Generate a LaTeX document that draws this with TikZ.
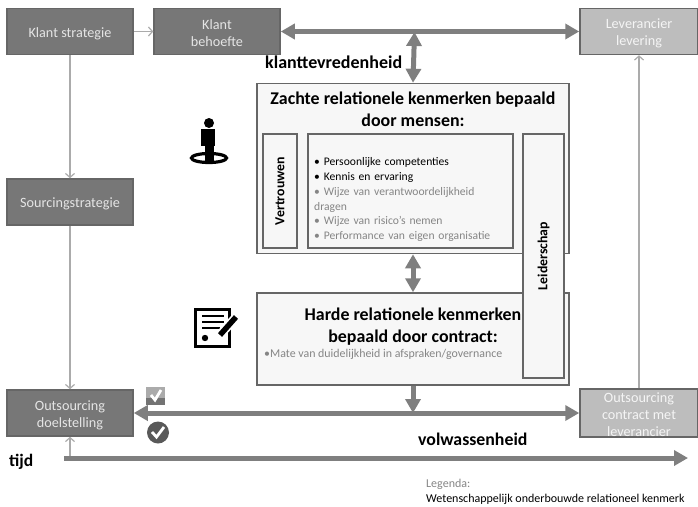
\documentclass[tikz,border=0pt]{standalone}
\usepackage{fontspec}
\setmainfont{Carlito}
\usetikzlibrary{arrows.meta}
\definecolor{darkfill}{HTML}{777777}
\definecolor{lightfill}{HTML}{BDBDBD}
\definecolor{edgegray}{HTML}{666666}
\definecolor{shaftgray}{HTML}{7F7F7F}
\definecolor{thingray}{HTML}{ABABAB}
\definecolor{softtext}{HTML}{858585}
\newcommand{\hoog}{\rule{0pt}{14pt}}
\begin{document}
\begin{tikzpicture}[
x=1pt,y=-1pt,
dark/.style={
    rectangle,
    draw=edgegray,
    fill=darkfill,
    text=white!90!black,
    align=center,
    inner sep=0,
    line width=1.5pt,
    minimum width=126pt,
    minimum height=46pt,
    font=\fontsize{14.2}{17}\selectfont
    },
pale/.style={
    dark,
    fill=lightfill,
    text=white!85!lightfill,
    minimum width=118pt
    },
kader/.style={
    rectangle,
    draw=edgegray,
    fill=black!3,
    line width=1.5pt,
    inner sep=0
    },
staand/.style={
    kader,
    rotate=90,
    font=\fontsize{13.8}{14}\selectfont\bfseries
    },
kop/.style={
    align=center,
    inner sep=0,
    font=\fontsize{17.9}{22}\selectfont\bfseries
    },
thin/.style={
    draw=thingray,
    line width=1.2pt,
    -{Straight Barb[length=4pt,width=9pt]}
    },
thick/.style={
    draw=shaftgray,
    line width=5pt,
    -{Triangle[length=14pt,width=15pt]}
    },
both/.style={
    thick,
    {Triangle[length=14pt,width=15pt]}-{Triangle[length=14pt,width=15pt]}
    }
]
\useasboundingbox (0,0) rectangle (698,506);
% linker kolom
\node(kstrategie) [dark] at (70,31.5) {\hoog Klant strategie};
\node(kbehoefte) [dark] at (217,31.5) {\hoog Klant\\behoefte};
\node(sourcing) [dark] at (70,202) {\hoog Sourcingstrategie};
\node(doelstelling) [dark] at (70,413) {\hoog Outsourcing\\doelstelling};
% rechter kolom
\node(levering) [pale] at (639,31.5) {\hoog Leverancier\\levering};
\node(contract) [pale] at (639,413) {\hoog Outsourcing\\contract met\\leverancier};
% kaders midden
\node(zachte) [kader,minimum width=312pt,minimum height=170pt] at (413,168.5) {};
\node(harde) [kader,minimum width=312pt,minimum height=92pt] at (413,339) {};
\node(vertrouwen) [staand,minimum width=114pt,minimum height=34pt] at (280,191) {Vertrouwen};
\node(lijst) [kader,minimum width=205pt,minimum height=114pt] at (410.5,191) {};
\node(leiderschap) [staand,minimum width=244pt,minimum height=41pt] at (543.5,256) {Leiderschap};
\node(zachtekop) [kop] at (413,109) {Zachte relationele kenmerken bepaald\\door mensen:};
\node(hardekop) [kop] at (413,326.5) {Harde relationele kenmerken\\bepaald door contract:};
\node(lijsttekst) [anchor=north west,inner sep=0,text width=196pt,align=left,font=\fontsize{11.6}{14.8}\selectfont] at (314,157.5) {%
• Persoonlijke competenties\\
• Kennis en ervaring\\
\textcolor{softtext}{• Wijze van verantwoordelijkheid}\\
\textcolor{softtext}{dragen}\\
\textcolor{softtext}{• Wijze van risico's nemen}\\
\textcolor{softtext}{• Performance van eigen organisatie}};
\node(duidelijk) [anchor=west,inner sep=0,text=softtext,font=\fontsize{11.9}{13}\selectfont] at (264,354) {•Mate van duidelijkheid in afspraken/governance};
% losse labels
\node(ktv) [anchor=west,inner sep=0,font=\fontsize{18}{20}\selectfont\bfseries] at (265,62) {klanttevredenheid};
\node(volw) [anchor=west,inner sep=0,font=\fontsize{17.8}{20}\selectfont\bfseries] at (418,439) {volwassenheid};
\node(tijd) [anchor=west,inner sep=0,font=\fontsize{17.5}{20}\selectfont\bfseries] at (9,462) {tijd};
\node(legenda) [anchor=west,inner sep=0,text=softtext,font=\fontsize{12}{12}\selectfont] at (426,484) {Legenda:};
\node(uitleg) [anchor=west,inner sep=0,font=\fontsize{12}{12}\selectfont] at (426,499) {Wetenschappelijk onderbouwde relationeel kenmerk};
% dunne pijlen
\coordinate(tijdstart) at (64,458);
\coordinate(tijdeind) at (688,458);
\coordinate(tijdvoet) at (70,458);
\draw[thin] (kstrategie) -- (kbehoefte);
\draw[thin] (kstrategie) -- (sourcing);
\draw[thin] (sourcing) -- (doelstelling);
\draw[thin] (tijdvoet) -- (doelstelling);
\draw[thin] (contract) -- (levering);
% dikke pijlen
\coordinate(boven) at (414.5,32);
\coordinate(onder) at (413,413);
\draw[both] (kbehoefte) -- (levering);
\draw[both] (doelstelling) -- (contract);
\draw[both] (boven) -- (zachte.north);
\draw[both] (zachte.south) -- (harde.north);
\draw[thick] (harde.south) -- (onder);
\draw[thick] (tijdstart) -- (tijdeind);
% poppetje
\fill[black] (209,123) circle (5);
\fill[black] (201,129) rectangle (215,146);
\fill[black] (204.5,146) rectangle (213.5,160);
\draw[black,line width=3.2pt] (209,158) ellipse (17.5 and 4.5);
\fill[black] (204.5,150) rectangle (213.5,161);
% contract
\draw[black,line width=3pt] (195.5,309.5) rectangle (229,346);
\draw[black,line width=1.6pt] (202,316) -- (224,316) (202,322) -- (224,322) (202,328) -- (220,328);
\fill[black] (205,338) circle (3.2);
\draw[white,line width=9pt] (219,336) -- (237,316);
\draw[black,line width=5.5pt] (220,335) -- (236,317);
% vinkjes
\fill[thingray] (146,387) rectangle (165,405);
\fill[black!55] (146,398) rectangle (165,405);
\draw[white,line width=2.8pt] (151,395) -- (155,400) -- (161,390);
\fill[black!65] (158,432.5) circle (11);
\draw[white,line width=2.8pt] (152,432) -- (156.5,437) -- (164,427);
\end{tikzpicture}
\end{document}
